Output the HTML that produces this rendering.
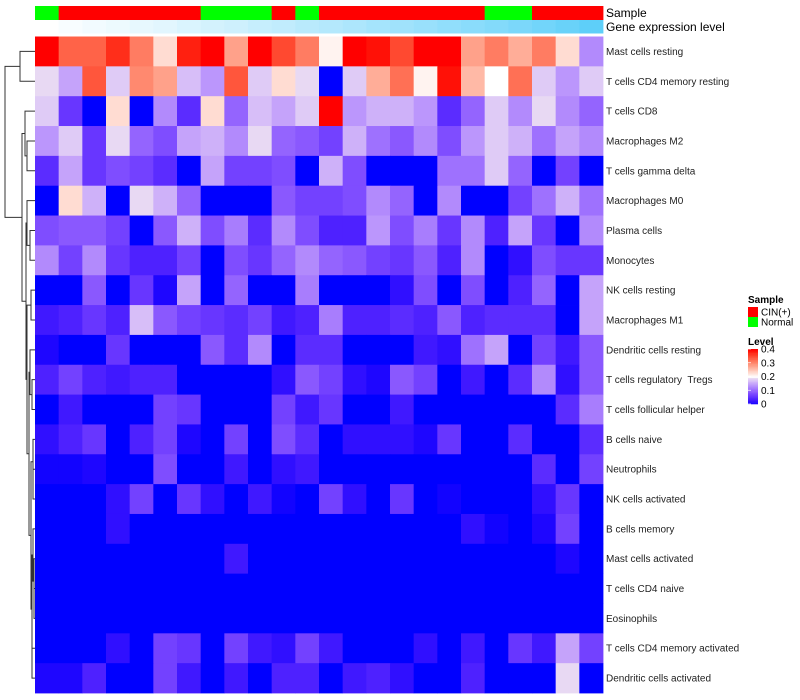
<!DOCTYPE html>
<html><head><meta charset="utf-8"><style>
body{margin:0;background:#fff;}
svg{display:block;font-family:"Liberation Sans",sans-serif;}
</style></head><body>
<svg id="chart" width="800" height="700"></svg>
<script>
const rowNames=["Mast cells resting","T cells CD4 memory resting","T cells CD8","Macrophages M2","T cells gamma delta","Macrophages M0","Plasma cells","Monocytes","NK cells resting","Macrophages M1","Dendritic cells resting","T cells regulatory  Tregs","T cells follicular helper","B cells naive","Neutrophils","NK cells activated","B cells memory","Mast cells activated","T cells CD4 naive","Eosinophils","T cells CD4 memory activated","Dendritic cells activated"];
const sampleGroups=["Normal","CIN(+)","CIN(+)","CIN(+)","CIN(+)","CIN(+)","CIN(+)","Normal","Normal","Normal","CIN(+)","Normal","CIN(+)","CIN(+)","CIN(+)","CIN(+)","CIN(+)","CIN(+)","CIN(+)","Normal","Normal","CIN(+)","CIN(+)","CIN(+)"];
const geneLevel=[0,0.04,0.07,0.1,0.13,0.16,0.2,0.24,0.27,0.31,0.34,0.38,0.41,0.45,0.49,0.52,0.56,0.6,0.64,0.68,0.72,0.77,0.82,0.88];
// values in hundredths (0..40 => 0..0.4)
const v0=[40,33,33,37,31,23,38,40,28,40,35,31,21,40,39,35,40,40,28,31,27,31,23,13];
const v1=[19,15,34,18,30,28,17,14,34,18,23,19,0,18,27,32,21,39,26,20,32,18,14,18];
const v2=[18,6,0,23,0,13,5,23,10,17,15,18,40,14,16,16,14,5,10,18,13,19,13,10];
const v3=[14,18,6,19,10,8,15,16,13,19,10,9,7,16,11,9,13,8,14,18,16,11,15,13];
const v4=[5,15,6,8,7,5,0,15,7,7,8,0,16,8,0,0,0,11,11,18,10,0,7,0];
const v5=[0,23,16,0,19,16,10,0,0,0,9,7,7,8,13,10,0,13,0,0,7,11,16,11];
const v6=[8,9,9,7,0,9,16,8,12,5,13,8,4,4,14,8,12,6,13,4,15,6,0,13];
const v7=[13,7,13,6,4,4,7,0,8,6,10,13,10,9,7,6,9,4,13,0,2,8,6,6];
const v8=[0,0,9,0,6,1,15,0,10,0,0,12,0,0,0,2,8,0,8,0,4,10,0,15];
const v9=[3,4,6,4,17,9,7,6,5,7,3,4,12,4,4,5,4,9,4,5,5,5,0,15];
const v10=[1,0,0,6,0,0,0,9,5,13,0,5,5,0,0,0,3,2,11,15,0,7,3,9];
const v11=[4,7,4,3,4,4,0,0,0,0,2,9,7,2,1,9,7,0,3,0,5,13,2,9];
const v12=[0,3,0,0,0,7,6,0,0,0,7,3,6,0,0,3,0,0,0,0,0,0,5,12];
const v13=[2,4,6,0,4,7,1,0,7,0,8,5,0,2,2,2,1,6,0,0,5,0,0,5];
const v14=[0.5,0.5,1,0,0,8,0,0,3,0,2,3,0,0,0,0,0,0,0,0,0,5,0,7];
const v15=[0,0,0,2,7,0,6,2,0,3,0.5,0,7,2,0,6,0,0.5,0,0,0,2,6,0];
const v16=[0,0,0,2,0,0,0,0,0,0,0,0,0,0,0,0,0,0,2,0.5,0,1,7,0];
const v17=[0,0,0,0,0,0,0,0,3,0,0,0,0,0,0,0,0,0,0,0,0,0,1,0];
const v18=[0,0,0,0,0,0,0,0,0,0,0,0,0,0,0,0,0,0,0,0,0,0,0,0];
const v19=[0,0,0,0,0,0,0,0,0,0,0,0,0,0,0,0,0,0,0,0,0,0,0,0];
const v20=[0,0,0,2,0,7,6,0,7,3,2,7,3,0,0,0,2,0,3,0,6,3,15,7];
const v21=[1,1,4,0,0,7,3,0,3,0,4,4,0,3,4,2,0,0,4,0,0,0,19,0];
const values=[v0,v1,v2,v3,v4,v5,v6,v7,v8,v9,v10,v11,v12,v13,v14,v15,v16,v17,v18,v19,v20,v21];
const legendTicks=["0.4","0.3","0.2","0.1","0"];
// dendrogram [height-x, left, right]
const tree=[5,[20,0,1],[22,[25,2,[27,3,4]],[26,[27,5,[30,6,7]],[27,[31,8,9],[29,[30,10,[32,11,12]],[31,[33,13,[33,14,15]],[32,[33,16,[34,17,[34,18,19]]],[32,20,21]]]]]]]];

const NS="http://www.w3.org/2000/svg";
const svg=document.getElementById('chart');
const X0=35,X1=603,Y0=36.5,Y1=693;
const nC=24,nR=22;
const cw=(X1-X0)/nC,rh=(Y1-Y0)/nR;
const xPos=c=>X0+c*cw;
const yPos=r=>Y0+r*rh;
function mk(t,a){const e=document.createElementNS(NS,t);for(const k in a)e.setAttribute(k,a[k]);svg.appendChild(e);return e;}
function col(v){
  v=Math.max(0,Math.min(40,v))/100;
  let r,g,b;
  if(v<0.2){const t=(v/0.2)*0.92;r=255*Math.pow(t,0.7);g=255*Math.pow(t,1.2);b=255-20*Math.pow(t,4);}
  else{const t=(v-0.2)/0.2;r=255;g=255*Math.pow(1-t,0.9);b=255*Math.pow(1-t,1.2);}
  return `rgb(${Math.round(r)},${Math.round(g)},${Math.round(b)})`;
}
function geneCol(t){
  const r=255+(72-255)*t,g=255+(200-255)*t,b=255+(248-255)*t;
  return `rgb(${Math.round(r)},${Math.round(g)},${Math.round(b)})`;
}
for(let c=0;c<nC;c++){
  const s=mk('rect',{x:xPos(c),y:6,width:cw+0.4,height:14,fill:sampleGroups[c]==="Normal"?"#00ff00":"#ff0000"});
  
  
  const g=mk('rect',{x:xPos(c),y:20,width:cw+0.4,height:13.5,fill:geneCol(geneLevel[c])});
  
  
}
let t=mk('text',{x:606,y:17,'font-size':12,fill:'#000'});t.textContent="Sample";


t=mk('text',{x:606,y:31,'font-size':12,fill:'#000'});t.textContent="Gene expression level";


for(let r=0;r<nR;r++){
  for(let c=0;c<nC;c++){
    const e=mk('rect',{x:xPos(c),y:yPos(r),width:cw+0.4,height:rh+0.4,fill:col(values[r][c])});
    
    
  }
  const l=mk('text',{x:606,y:yPos(r)+rh/2+3.5,'font-size':10,fill:'#222'});
  l.style.whiteSpace='pre';
  l.textContent=rowNames[r];
  
  
}
function draw(n){
  if(typeof n==="number") return {x:X0,y:yPos(n)+rh/2};
  const a=draw(n[1]),b=draw(n[2]),h=n[0];
  const p=mk('path',{d:`M${a.x},${a.y}H${h}V${b.y}H${b.x}`,fill:'none',stroke:'#333','stroke-width':1});
  
  
  return {x:h,y:(a.y+b.y)/2};
}
draw(tree);
t=mk('text',{x:748,y:303,'font-size':10,'font-weight':'bold'});t.textContent="Sample";


const leg=[["CIN(+)","#ff0000"],["Normal","#00ff00"]];
leg.forEach((d,i)=>{
  const r=mk('rect',{x:748,y:307+i*10,width:10,height:10,fill:d[1]});
  
  
  const tx=mk('text',{x:761,y:315.5+i*10,'font-size':10});tx.textContent=d[0];
  
  
});
t=mk('text',{x:748,y:345,'font-size':10,'font-weight':'bold'});t.textContent="Level";


const LB0=349,LB1=404;
for(let i=0;i<40;i++){
  const r=mk('rect',{x:748,y:LB0+i*(LB1-LB0)/40,width:10,height:(LB1-LB0)/40+0.3,fill:col(40-i)});
  
  
}
legendTicks.forEach((s,i)=>{
  const y=LB0+i*(LB1-LB0)/4;
  const k=mk('line',{x1:748,x2:751,y1:y,y2:y,stroke:'#fff','stroke-width':0.7});
  
  
  const tx=mk('text',{x:761,y:y+3.5,'font-size':10});tx.textContent=s;
  
  
});
</script>
</body></html>
